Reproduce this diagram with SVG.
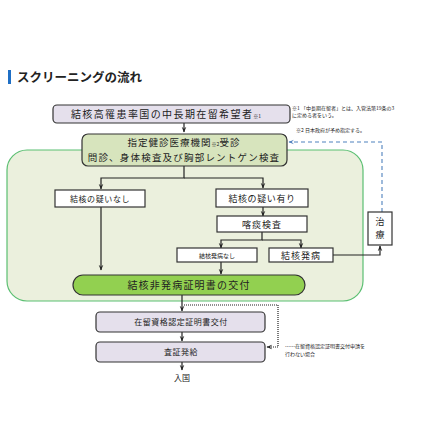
<svg xmlns="http://www.w3.org/2000/svg" width="429" height="429" viewBox="0 0 429 429">
<defs>
<style>
text{font-family:"Noto Sans CJK JP","Noto Sans CJK SC",sans-serif;fill:#222;}
.t{font-size:10px;text-anchor:middle;}
.s{font-size:7px;text-anchor:middle;}
.n{font-size:5px;}
.box{fill:#fff;stroke:#333;stroke-width:1.2;}
.lav{fill:#e5e0ec;stroke:#333;stroke-width:1.2;}
.ln{fill:none;stroke:#222;stroke-width:1.2;}
</style>
<marker id="ah" viewBox="0 0 10 10" refX="9" refY="5" markerWidth="5" markerHeight="5" orient="auto"><path d="M0,1 L10,5 L0,9 L4,5 Z" fill="#222"/></marker>
<marker id="ab" viewBox="0 0 10 10" refX="9" refY="5" markerWidth="5" markerHeight="5" orient="auto"><path d="M0,1 L10,5 L0,9 L4,5 Z" fill="#4f81bd"/></marker>
</defs>
<rect width="429" height="429" fill="#fff"/>
<rect x="8" y="70" width="3" height="14" fill="#1f6fc5"/>
<text x="17" y="82" style="font-size:12.5px;font-weight:bold">スクリーニングの流れ</text>

<g id="container"><rect x="7" y="150" width="356" height="151" rx="20" fill="#ebf0dd" stroke="#5bbf72" stroke-width="1.2"/></g>

<g id="connectors">
<path class="ln" d="M184,123 V132" marker-end="url(#ah)"/>
<path class="ln" d="M184,166 V178 H101 V189" marker-end="url(#ah)"/>
<path class="ln" d="M184,178 H263 V188" marker-end="url(#ah)"/>
<path class="ln" d="M263,207 V216" marker-end="url(#ah)"/>
<path class="ln" d="M262,232 V240 H221 V248" marker-end="url(#ah)"/>
<path class="ln" d="M262,240 H301 V248" marker-end="url(#ah)"/>
<path class="ln" d="M101,207 V270" marker-end="url(#ah)"/>
<path class="ln" d="M221,262 V274" marker-end="url(#ah)"/>
<path class="ln" d="M333,255 H380 V246" marker-end="url(#ah)"/>
<path d="M382,212 V142 H289" fill="none" stroke="#4f81bd" stroke-width="1.1" stroke-dasharray="4,3" marker-end="url(#ab)"/>
<path class="ln" d="M182,295 V311" marker-end="url(#ah)"/>
<path class="ln" d="M182,332 V341" marker-end="url(#ah)"/>
<path class="ln" d="M182,362 V370" marker-end="url(#ah)"/>
<path d="M184,305 H278 V347 H267" fill="none" stroke="#222" stroke-width="1.2" stroke-dasharray="1,1" marker-end="url(#ah)"/>
</g>

<g id="n1"><rect class="lav" x="53" y="105" width="237" height="18" rx="4"/>
<text x="166" y="118" class="t" style="letter-spacing:1.4px">結核高罹患率国の中長期在留希望者<tspan style="font-size:5px;letter-spacing:0">※1</tspan></text></g>

<g id="note1"><text x="292" y="110" class="n">※1 「中長期在留者」とは、入管法第19条の3</text>
<text x="292" y="117" class="n">に定める者をいう。</text>
<text x="296" y="132" class="n">※2 日本政府が予め指定する。</text></g>

<g id="n2"><rect x="82" y="134" width="205" height="32" rx="6" fill="#d7e4bd" stroke="#333" stroke-width="1.2"/>
<text x="184" y="146" class="t" style="font-size:9.5px;letter-spacing:1px">指定健診医療機関<tspan style="font-size:5px;letter-spacing:0">※2</tspan>受診</text>
<text x="184" y="161" class="t" style="font-size:9.5px;letter-spacing:1.2px">問診、身体検査及び胸部レントゲン検査</text></g>

<g id="n3"><rect class="box" x="55" y="190" width="90" height="17"/><text x="100" y="202" class="s" style="font-size:8px;letter-spacing:0.6px">結核の疑いなし</text></g>
<g id="n4"><rect class="box" x="216" y="189" width="92" height="18"/><text x="262" y="202" class="t" style="font-size:9px;letter-spacing:0.6px">結核の疑い有り</text></g>
<g id="n5"><rect class="box" x="217" y="216" width="90" height="16"/><text x="262" y="228" class="t" style="font-size:9px;letter-spacing:1px">喀痰検査</text></g>
<g id="n6"><rect class="box" x="177" y="248" width="80" height="14"/><text x="217" y="258" class="s" style="font-size:6px">結核発病なし</text></g>
<g id="n7"><rect class="box" x="269" y="248" width="64" height="14"/><text x="301" y="259" class="t" style="font-size:9px;letter-spacing:1px">結核発病</text></g>
<g id="n8"><rect class="box" x="368" y="212" width="24" height="33"/><text x="380" y="225" class="t" style="font-size:9px">治</text><text x="380" y="238" class="t" style="font-size:9px">療</text></g>
<g id="n9"><rect x="73" y="275" width="232" height="20" rx="10" fill="#92d050" stroke="#333" stroke-width="1.2"/><text x="189" y="289" class="t" style="letter-spacing:1.2px">結核非発病証明書の交付</text></g>
<g id="n10"><rect class="lav" x="96" y="312" width="169" height="20" rx="4"/><text x="181" y="325" class="t" style="font-size:8px;letter-spacing:0.5px">在留資格認定証明書交付</text></g>
<g id="n11"><rect class="lav" x="96" y="342" width="169" height="20" rx="4"/><text x="181" y="355" class="t" style="font-size:8px;letter-spacing:0.5px">査証発給</text></g>
<g id="n12"><text x="182" y="381" class="t" style="font-size:8px">入国</text></g>
<g id="note2"><text x="285" y="348" class="n">……在留資格認定証明書交付申請を</text><text x="285" y="356" class="n">行わない場合</text></g>
</svg>
